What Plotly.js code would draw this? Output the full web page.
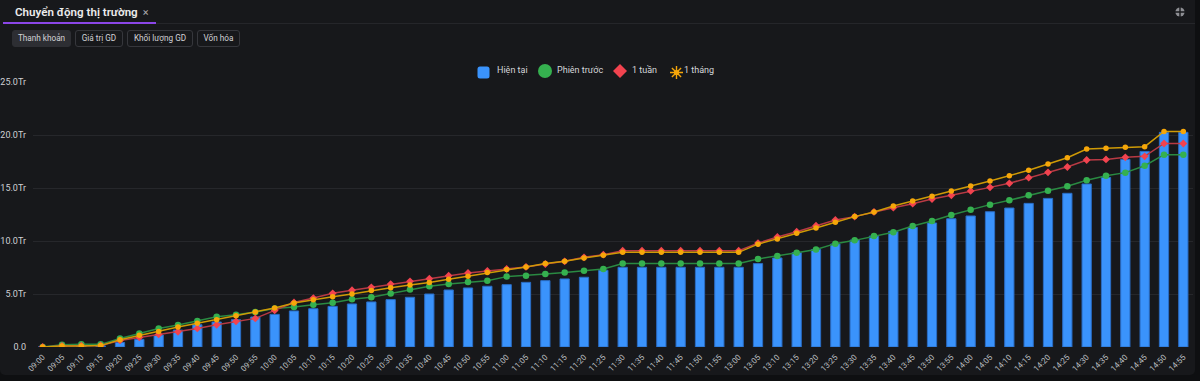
<!DOCTYPE html>
<html lang="vi">
<head>
<meta charset="utf-8">
<title>Chuyển động thị trường</title>
<script src="https://cdn.plot.ly/plotly-3.0.1.min.js"></script>
<style>
  html, body { margin: 0; padding: 0; background: #0e0f11; }
  body { width: 1200px; height: 381px; overflow: hidden; position: relative; font-family: Roboto, "Noto Sans", sans-serif; }
  #panel { position: absolute; left: 0; top: 0; width: 1195px; height: 375px; background: #17181b; border-bottom-right-radius: 5px; border-bottom-left-radius: 5px; }
  #chart { position: absolute; left: 0; top: 0; width: 1200px; height: 381px; }
  .tab { position: absolute; left: 15px; top: 5px; font-size: 11.6px; font-weight: 600; color: #ececec; }
  .tab .x { color: #a9a9ad; font-size: 11px; margin-left: 5px; font-weight: 400; }
  .tabline { position: absolute; left: 3px; top: 22px; width: 153px; height: 2px; background: #8b46e8; }
  .divider { position: absolute; left: 156px; top: 23px; width: 1039px; height: 1px; background: #25262a; }
  .btn { position: absolute; top: 30px; height: 15px; line-height: 15px; border: 1px solid #36373c; border-radius: 3px; font-size: 8.2px; color: #d2d2d6; text-align: center; background: #17181b; }
  .btn.active { background: #2d2e33; border-color: #2d2e33; }
  .icon { position: absolute; left: 1175px; top: 7px; width: 10px; height: 10px; }
  .leg-icon { position: absolute; }
  .leg-text { position: absolute; top: 64px; height: 12px; line-height: 12px; font-size: 9px; color: #d6d7da; white-space: nowrap; }
</style>
</head>
<body>
<div id="panel"></div>
<div id="chart"></div>
<div class="tab">Chuyển động thị trường<span class="x">×</span></div>
<div class="tabline"></div>
<div class="divider"></div>
<div class="btn active" style="left:12px;width:57px;">Thanh khoản</div>
<div class="btn" style="left:75px;width:46px;">Giá trị GD</div>
<div class="btn" style="left:127px;width:64px;">Khối lượng GD</div>
<div class="btn" style="left:197px;width:41px;">Vốn hóa</div>
<svg class="icon" viewBox="0 0 10 10">
  <circle cx="5" cy="5" r="4.6" fill="#8e8f94"/>
  <path d="M5 0V10M0 5H10" stroke="#17181b" stroke-width="1.4"/>
</svg>
<div id="legend"></div>
<script>
// Time buckets (5-minute steps, lunch break skipped)
const times = [
  "09:00","09:05","09:10","09:15","09:20","09:25","09:30","09:35","09:40","09:45","09:50","09:55",
  "10:00","10:05","10:10","10:15","10:20","10:25","10:30","10:35","10:40","10:45","10:50","10:55",
  "11:00","11:05","11:10","11:15","11:20","11:25","11:30","11:35","11:40","11:45","11:50","11:55",
  "13:00","13:05","13:10","13:15","13:20","13:25","13:30","13:35","13:40","13:45","13:50","13:55",
  "14:00","14:05","14:10","14:15","14:20","14:25","14:30","14:35","14:40","14:45","14:50","14:55"
];

// Cumulative liquidity, trillion VND
const hienTai = [
  0, 0.08, 0.1, 0.12, 0.43, 0.72, 1.13, 1.6, 2.1, 2.36, 2.58, 2.83,
  3.08, 3.4, 3.61, 3.83, 4.06, 4.25, 4.47, 4.69, 5.0, 5.38, 5.57, 5.73,
  5.88, 6.1, 6.26, 6.42, 6.58, 7.24, 7.52, 7.52, 7.52, 7.52, 7.52, 7.52,
  7.52, 7.87, 8.4, 8.9, 9.2, 9.72, 10.09, 10.47, 10.91, 11.29, 11.7, 12.1,
  12.36, 12.76, 13.11, 13.55, 14.02, 14.5, 15.38, 16.0, 17.7, 18.45, 20.25, 20.25
];
const phienTruoc = [
  0, 0.22, 0.25, 0.25, 0.81, 1.28, 1.75, 2.07, 2.45, 2.86, 3.05, 3.3,
  3.64, 3.77, 3.99, 4.18, 4.5, 4.69, 5.04, 5.42, 5.73, 5.94, 6.13, 6.26,
  6.64, 6.73, 6.89, 7.02, 7.2, 7.36, 7.87, 7.87, 7.87, 7.87, 7.87, 7.87,
  7.87, 8.31, 8.58, 8.9, 9.2, 9.75, 10.06, 10.47, 10.82, 11.42, 11.89, 12.45,
  12.95, 13.43, 13.84, 14.31, 14.75, 15.16, 15.73, 16.16, 16.45, 17.1, 18.14, 18.14
];
const motTuan = [
  0, 0.1, 0.12, 0.14, 0.62, 0.9, 1.19, 1.44, 1.75, 2.1, 2.42, 2.7,
  3.45, 4.2, 4.62, 5.06, 5.36, 5.63, 5.94, 6.2, 6.45, 6.73, 6.98, 7.17,
  7.36, 7.55, 7.83, 8.08, 8.46, 8.71, 9.09, 9.09, 9.09, 9.09, 9.09, 9.09,
  9.09, 9.8, 10.38, 10.88, 11.45, 11.98, 12.3, 12.74, 13.14, 13.52, 13.96, 14.31,
  14.72, 15.06, 15.44, 15.97, 16.48, 16.98, 17.64, 17.7, 17.89, 17.99, 19.2, 19.2
];
const motThang = [
  0, 0.1, 0.1, 0.13, 0.69, 1.1, 1.47, 1.89, 2.23, 2.58, 2.95, 3.3,
  3.68, 4.15, 4.46, 4.75, 5.0, 5.32, 5.6, 5.85, 6.08, 6.39, 6.67, 7.02,
  7.3, 7.55, 7.87, 8.08, 8.4, 8.65, 8.93, 8.93, 8.93, 8.93, 8.93, 8.93,
  8.93, 9.7, 10.19, 10.73, 11.23, 11.76, 12.3, 12.74, 13.3, 13.77, 14.22, 14.72,
  15.19, 15.66, 16.16, 16.67, 17.26, 17.86, 18.68, 18.74, 18.84, 18.9, 20.34, 20.34
];

// Y axis ticks
const yTickVals = [0, 5, 10, 15, 20, 25];
const yTickText = ["0.0", "5.0Tr", "10.0Tr", "15.0Tr", "20.0Tr", "25.0Tr"];

const seriesNames = ["Hiện tại", "Phiên trước", "1 tuần", "1 tháng"];

// series styles: line colour, marker colour, marker symbol, marker size
const styles = [
  null,
  { line: "#2a8a42", marker: "#35b04f", symbol: "circle", size: 6.5 },
  { line: "#b83a44", marker: "#f2434f", symbol: "diamond", size: 6 },
  { line: "#cf9a06", marker: "#f6a609", symbol: "circle", size: 5.5 }
];

function seriesTrace(y, name, s) {
  return { type: "scatter", mode: "lines+markers", x: times, y: y, name: name,
           line: { color: s.line, width: 1.5 },
           marker: { color: s.marker, symbol: s.symbol, size: s.size, line: { width: 0 } } };
}

const traces = [
  { type: "bar", x: times, y: hienTai, name: seriesNames[0],
    marker: { color: "#3a93fc", line: { color: "#2a6cc4", width: 1 } } },
  seriesTrace(phienTruoc, seriesNames[1], styles[1]),
  seriesTrace(motTuan, seriesNames[2], styles[2]),
  seriesTrace(motThang, seriesNames[3], styles[3])
];

const layout = {
  width: 1200, height: 381,
  margin: { l: 33, r: 7, t: 82, b: 34, pad: 0 },
  paper_bgcolor: "rgba(0,0,0,0)",
  plot_bgcolor: "rgba(0,0,0,0)",
  font: { family: "Roboto, 'Noto Sans', sans-serif", color: "#cfd0d4", size: 9 },
  bargap: 0.52,
  showlegend: false,
  xaxis: {
    type: "category", tickangle: -45, showgrid: false, zeroline: false,
    showline: false, ticks: "", tickfont: { size: 8, color: "#bfc0c4" },
    ticklabelstandoff: 3, range: [-0.5, 59.5], fixedrange: true
  },
  yaxis: {
    range: [0, 25], tickvals: yTickVals, ticktext: yTickText,
    showgrid: true, gridcolor: "#26272b", gridwidth: 1, zeroline: false,
    showline: false, ticks: "", tickfont: { size: 9, color: "#cfd0d4" },
    ticklabelstandoff: 6, fixedrange: true
  }
};

Plotly.newPlot("chart", traces, layout, { displayModeBar: false, staticPlot: true });

// Legend row above the plot: icon and label placed separately
const legendIcons = [
  '<svg width="13" height="13" viewBox="0 0 13 13"><rect x="0.5" y="0.5" width="12" height="12" rx="2.5" fill="#3a93fc"/></svg>',
  '<svg width="14" height="14" viewBox="0 0 14 14"><circle cx="7" cy="7" r="7" fill="#35b04f"/></svg>',
  '<svg width="14" height="14" viewBox="0 0 14 14"><path d="M7 0L14 7L7 14L0 7Z" fill="#f2434f"/></svg>',
  '<svg width="13" height="13" viewBox="0 0 13 13"><g stroke="#f6a609" stroke-width="1.4"><path d="M6.5 0V13M0 6.5H13M1.9 1.9L11.1 11.1M11.1 1.9L1.9 11.1"/></g><circle cx="6.5" cy="6.5" r="2.6" fill="#f6a609"/></svg>'
];
const iconLeft = [477, 538, 613, 670];
const iconTop = [64, 63, 63, 64];
const textLeft = [497, 557, 632, 684];
const legendBox = document.getElementById("legend");
seriesNames.forEach(function (name, i) {
  const icon = document.createElement("div");
  icon.className = "leg-icon";
  icon.style.left = iconLeft[i] + "px";
  icon.style.top = iconTop[i] + "px";
  icon.innerHTML = legendIcons[i];
  legendBox.appendChild(icon);
  const label = document.createElement("div");
  label.className = "leg-text";
  label.style.left = textLeft[i] + "px";
  label.textContent = name;
  legendBox.appendChild(label);
});
</script>
</body>
</html>
